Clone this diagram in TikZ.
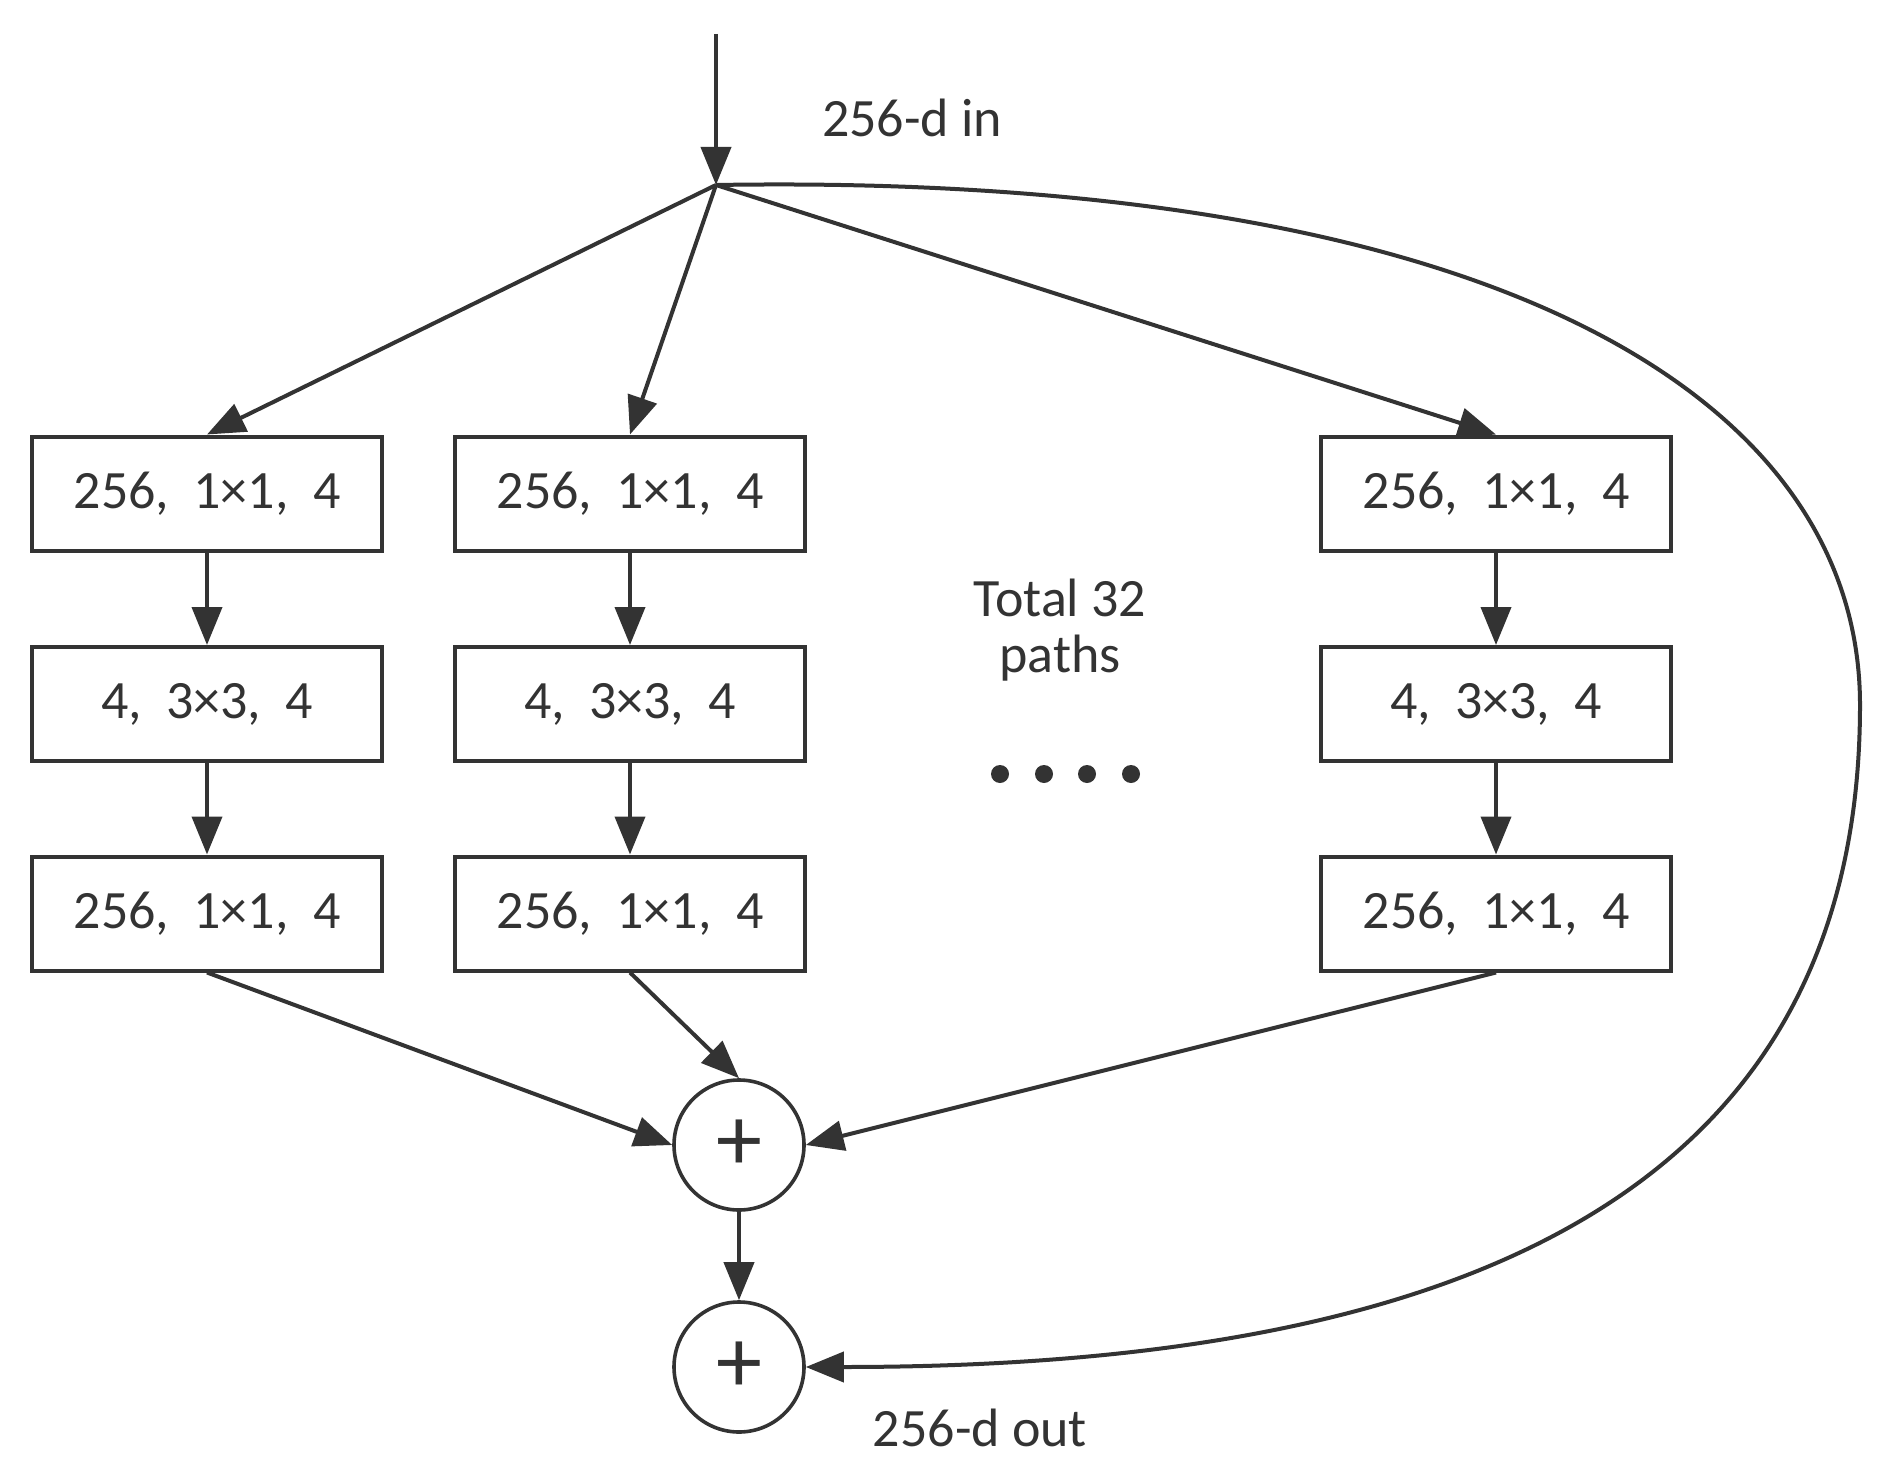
\documentclass[tikz,border=0pt]{standalone}
\usepackage{fontspec}
\setmainfont{Carlito}
\usetikzlibrary{arrows.meta}
\definecolor{ink}{HTML}{333333}
\begin{document}
\begin{tikzpicture}[x=0.5pt,y=-0.5pt,
  box/.style={draw=ink,line width=2pt,minimum width=175pt,minimum height=57pt,inner sep=0pt,text=ink,font=\fontsize{27}{30}\selectfont},
  sum/.style={draw=ink,line width=1.8pt,circle,minimum size=65pt,inner sep=0pt,text=ink,font=\fontsize{46}{46}\selectfont},
  lbl/.style={text=ink,font=\fontsize{27}{28}\selectfont,inner sep=0pt,align=center},
  arr/.style={draw=ink,line width=2pt,-{Triangle[length=19pt,width=15pt]}},
  dot/.style={circle,fill=ink,minimum size=9pt,inner sep=0pt}
]
\useasboundingbox (0,0) rectangle (1901,1482);
\newcommand{\ta}{256,\hspace{0.45em}1×1,\hspace{0.45em}4}
\newcommand{\tb}{4,\hspace{0.45em}3×3,\hspace{0.45em}4}
% boxes
\node[box] (a1) at (207,493.5) {\ta};
\node[box] (a2) at (207,704) {\tb};
\node[box] (a3) at (207,913.5) {\ta};
\node[box] (b1) at (630,493.5) {\ta};
\node[box] (b2) at (630,704) {\tb};
\node[box] (b3) at (630,913.5) {\ta};
\node[box] (c1) at (1496,493.5) {\ta};
\node[box] (c2) at (1496,704) {\tb};
\node[box] (c3) at (1496,913.5) {\ta};
% sums
\node[sum] (s1) at (739,1145) {+};
\node[sum] (s2) at (739,1367) {+};
% labels
\node[lbl] (lin) at (912,118) {256-d in};
\node[lbl] (lout) at (980,1428) {256-d out};
\node[lbl] (ltot) at (1060,630) {Total 32\\paths};
\node[dot] (d1) at (1000,774) {};
\node[dot] (d2) at (1044,774) {};
\node[dot] (d3) at (1087,774) {};
\node[dot] (d4) at (1131,774) {};
% input
\coordinate (top) at (716,34);
\coordinate (j) at (716,185);
\draw[arr] (top) -- (j);
\draw[arr] (j) -- (a1.north);
\draw[arr] (j) -- (b1.north);
\draw[arr] (j) -- (c1.north);
% column arrows
\draw[arr] (a1) -- (a2);
\draw[arr] (a2) -- (a3);
\draw[arr] (b1) -- (b2);
\draw[arr] (b2) -- (b3);
\draw[arr] (c1) -- (c2);
\draw[arr] (c2) -- (c3);
% to sum
\draw[arr] (a3.south) -- (s1.west);
\draw[arr] (b3.south) -- (s1.north);
\draw[arr] (c3.south) -- (s1.east);
\draw[arr] (s1) -- (s2);
% shortcut
\draw[arr] (j) .. controls (1500,172) and (1860,400) .. (1860,705)
  .. controls (1860,1200) and (1450,1367) .. (s2.east);
\end{tikzpicture}
\end{document}
